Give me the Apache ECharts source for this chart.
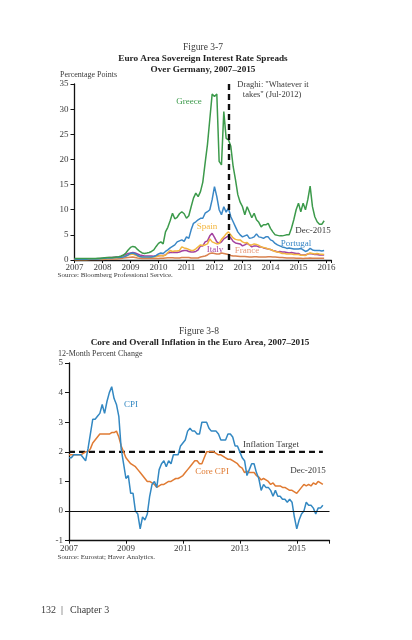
<!DOCTYPE html>
<html><head><meta charset="utf-8">
<script src="https://cdn.jsdelivr.net/npm/echarts@6/dist/echarts.min.js"></script>
<style>html,body{margin:0;padding:0;background:#fff}#c{width:412px;height:640px}</style>
</head><body><div id="c"></div>
<script>
// ---------- Figure 3-7 data (monthly, Jan-2007 .. Dec-2015), percentage points ----------
const startYear = 2007;
const spreadYearTicks = [2007, 2008, 2009, 2010, 2011, 2012, 2013, 2014, 2015, 2016];
const greece = [
  0.3,0.3,0.3,0.3,0.3,0.3,0.3,0.3,0.3,0.3,0.35,0.35,
  0.4,0.45,0.5,0.5,0.5,0.55,0.6,0.65,0.8,1.0,1.4,2.0,
  2.5,2.7,2.6,2.1,1.7,1.4,1.3,1.4,1.5,1.7,2.0,2.7,
  3.3,3.6,3.2,5.6,6.5,7.8,9.3,8.2,8.5,9.2,9.6,9.2,
  8.3,8.8,10.6,12.3,13.3,12.6,13.6,15.5,19.3,23.0,28.0,33.0,
  32.5,33.0,19.6,18.9,29.5,24.2,23.9,22.6,18.6,16.0,13.0,11.5,
  10.6,9.0,10.6,9.5,8.4,9.3,8.0,7.5,6.6,7.0,7.0,7.3,
  6.3,5.6,5.0,4.9,4.8,4.8,4.9,5.0,5.0,6.3,8.0,10.0,
  11.3,9.6,11.3,10.0,12.0,14.7,10.6,8.6,7.6,7.1,7.1,7.8
];
const portugal = [
  0.15,0.15,0.15,0.15,0.15,0.15,0.18,0.2,0.2,0.2,0.22,0.25,
  0.3,0.35,0.4,0.4,0.4,0.45,0.5,0.5,0.55,0.6,0.8,1.0,
  1.3,1.4,1.2,0.9,0.7,0.6,0.6,0.6,0.6,0.6,0.7,0.9,
  1.2,1.4,1.3,1.7,2.0,2.4,2.7,3.0,3.6,3.8,4.0,3.7,
  4.6,4.3,6.0,7.3,7.6,8.0,8.3,8.3,9.3,9.6,10.0,12.0,
  14.6,12.6,10.0,9.0,10.6,9.5,10.3,8.6,7.6,6.6,5.6,5.0,
  4.6,4.8,5.0,4.3,4.4,4.6,5.2,4.6,4.5,4.3,4.6,4.6,
  4.0,3.8,3.3,3.0,2.8,2.6,2.5,2.3,2.4,2.3,2.2,2.2,
  2.2,2.3,2.0,1.7,1.9,2.3,2.0,1.9,1.9,1.9,1.8,1.9
];
const spain = [
  0.1,0.1,0.1,0.1,0.1,0.12,0.15,0.15,0.15,0.15,0.17,0.2,
  0.2,0.3,0.35,0.35,0.35,0.4,0.45,0.5,0.55,0.6,0.8,1.0,
  1.1,1.2,1.0,0.8,0.65,0.6,0.6,0.6,0.55,0.55,0.6,0.65,
  0.8,0.9,0.8,1.0,1.5,1.9,1.7,1.8,1.8,1.9,2.6,2.4,
  2.3,2.1,1.9,1.9,2.2,2.6,3.0,2.9,3.0,3.2,4.2,3.6,
  3.4,3.2,3.3,4.1,4.6,5.2,5.6,5.0,4.4,4.1,4.0,4.0,
  3.6,3.4,3.5,3.0,3.0,3.2,3.1,2.9,2.6,2.5,2.4,2.2,
  2.1,1.9,1.7,1.6,1.5,1.3,1.3,1.2,1.2,1.2,1.1,1.1,
  1.1,0.95,0.95,0.9,1.2,1.4,1.3,1.2,1.3,1.2,1.15,1.1
];
const italy = [
  0.2,0.2,0.2,0.2,0.2,0.22,0.25,0.25,0.25,0.25,0.27,0.3,
  0.3,0.4,0.45,0.5,0.5,0.55,0.6,0.6,0.7,0.9,1.1,1.3,
  1.4,1.5,1.4,1.2,1.0,0.9,0.8,0.8,0.8,0.8,0.75,0.8,
  0.85,0.9,0.9,1.0,1.4,1.5,1.5,1.5,1.5,1.6,1.8,1.9,
  1.9,1.7,1.6,1.6,1.7,2.0,2.8,2.8,3.6,3.8,4.8,5.3,
  4.5,3.6,3.3,3.6,4.2,4.5,4.8,4.4,3.7,3.4,3.3,3.2,
  2.8,3.0,3.3,3.0,2.6,2.8,2.8,2.6,2.6,2.4,2.3,2.2,
  2.1,1.9,1.8,1.6,1.7,1.6,1.6,1.5,1.4,1.5,1.4,1.3,
  1.3,1.0,1.0,1.0,1.2,1.3,1.2,1.1,1.1,1.0,1.0,1.0
];
const france = [
  0.05,0.05,0.05,0.05,0.05,0.05,0.07,0.08,0.08,0.08,0.1,0.1,
  0.1,0.15,0.2,0.2,0.2,0.2,0.2,0.25,0.3,0.4,0.45,0.5,
  0.55,0.6,0.5,0.4,0.35,0.3,0.3,0.3,0.3,0.3,0.3,0.3,
  0.3,0.35,0.35,0.4,0.45,0.45,0.45,0.4,0.4,0.4,0.5,0.5,
  0.5,0.5,0.4,0.4,0.4,0.4,0.6,0.7,0.8,1.0,1.3,1.4,
  1.3,1.2,1.2,1.4,1.3,1.2,1.1,0.9,0.8,0.8,0.75,0.7,
  0.7,0.7,0.65,0.6,0.6,0.65,0.65,0.6,0.6,0.6,0.6,0.65,
  0.65,0.6,0.6,0.55,0.5,0.5,0.45,0.4,0.4,0.4,0.4,0.35,
  0.35,0.35,0.3,0.35,0.35,0.4,0.35,0.35,0.35,0.35,0.35,0.35
];
const draghiDate = 2012.5; // Jul-2012

// ---------- Figure 3-8 data (monthly, Jan-2007 .. Dec-2015), 12-month % change ----------
const inflationYearTicks = [2007, 2009, 2011, 2013, 2015];
const cpi = [
  1.8,1.8,1.9,1.9,1.9,1.9,1.8,1.7,2.1,2.6,3.1,3.1,
  3.2,3.3,3.6,3.3,3.7,4.0,4.2,3.8,3.6,3.2,2.1,1.6,
  1.1,1.2,0.6,0.6,0.0,-0.1,-0.6,-0.2,-0.3,-0.1,0.5,0.9,
  1.0,0.8,1.4,1.6,1.7,1.5,1.7,1.6,1.9,1.9,1.9,2.2,
  2.3,2.4,2.7,2.8,2.7,2.7,2.6,2.6,3.0,3.0,3.0,2.8,
  2.7,2.7,2.7,2.6,2.4,2.4,2.4,2.6,2.6,2.5,2.2,2.2,
  2.0,1.8,1.7,1.2,1.4,1.6,1.6,1.3,1.1,0.7,0.9,0.8,
  0.8,0.7,0.5,0.7,0.5,0.5,0.4,0.4,0.3,0.4,0.3,-0.2,
  -0.6,-0.3,-0.1,0.0,0.3,0.2,0.2,0.1,-0.1,0.1,0.1,0.2
];
const coreCpi = [
  1.9,1.9,1.9,1.9,1.9,1.9,1.95,2.0,2.0,2.1,2.3,2.4,
  2.5,2.6,2.6,2.6,2.6,2.6,2.65,2.65,2.7,2.5,2.2,2.0,
  1.8,1.7,1.6,1.55,1.5,1.4,1.3,1.2,1.1,1.0,1.0,0.95,
  0.9,0.8,0.85,0.9,0.9,0.95,1.0,1.0,1.05,1.1,1.1,1.15,
  1.2,1.3,1.4,1.5,1.6,1.7,1.7,1.6,1.6,1.8,2.0,2.0,
  2.0,2.0,1.95,1.9,1.9,1.85,1.8,1.75,1.75,1.7,1.65,1.6,
  1.5,1.45,1.3,1.35,1.3,1.3,1.3,1.2,1.15,1.05,1.1,1.05,
  1.0,0.9,0.95,0.85,0.85,0.85,0.8,0.8,0.75,0.7,0.7,0.65,
  0.6,0.7,0.8,0.9,0.85,0.9,0.85,0.95,0.9,1.0,0.95,0.9
];
const inflationTarget = 2;

// ---------- helpers ----------
const toPairs = arr => arr.map((v, i) => [startYear + i / 12, v]);
const lastMonth = n => startYear + (n - 1) / 12;
const SERIF = '"Liberation Serif", "Times New Roman", serif';
const TXT = '#3a3a3a';

const yearLabel = v => Math.abs(v - Math.round(v)) < 1e-6 ? String(Math.round(v)) : '';

const chart = echarts.init(document.getElementById('c'), null, {renderer: 'canvas'});

function txt(text, x, y, opts) {
  opts = opts || {};
  return {
    type: 'text', x: x, y: y, silent: true,
    style: {
      text: text,
      font: (opts.bold ? 'bold ' : '') + (opts.size || 9) + 'px ' + SERIF,
      fill: opts.color || TXT,
      textAlign: opts.align || 'center',
      textVerticalAlign: 'middle'
    }
  };
}

function lineSeries(name, data, color, xi, extra) {
  return Object.assign({
    name: name, type: 'line', xAxisIndex: xi, yAxisIndex: xi,
    data: toPairs(data), showSymbol: false, symbol: 'none',
    lineStyle: {color: color, width: 1.5}, itemStyle: {color: color},
    animation: false, z: 3
  }, extra || {});
}

const axisLineStyle = {lineStyle: {color: '#111', width: 1.3}};

const option = {
  animation: false,
  backgroundColor: '#fff',
  grid: [
    {left: 74.5, top: 84, width: 257, height: 176},
    {left: 69, top: 363, width: 260.5, height: 177.7}
  ],
  xAxis: [
    {
      type: 'value', gridIndex: 0, min: spreadYearTicks[0], max: 2016.18, interval: 1,
      axisLine: axisLineStyle, axisTick: {show: true, length: 3, lineStyle: {color: '#111'}},
      splitLine: {show: false},
      axisLabel: {formatter: yearLabel, fontFamily: SERIF, fontSize: 9, color: TXT, margin: 3, showMaxLabel: true}
    },
    {
      type: 'value', gridIndex: 1, min: inflationYearTicks[0], max: 2016.15, interval: 2,
      axisLine: Object.assign({onZero: false}, axisLineStyle), axisTick: {show: true, length: 3, lineStyle: {color: '#111'}},
      splitLine: {show: false},
      axisLabel: {formatter: yearLabel, fontFamily: SERIF, fontSize: 9, color: TXT, margin: 3}
    }
  ],
  yAxis: [
    {
      type: 'value', gridIndex: 0, min: 0, max: 35, interval: 5,
      axisLine: Object.assign({show: true}, axisLineStyle), axisTick: {show: true, length: 4, lineStyle: {color: '#111'}},
      splitLine: {show: false},
      axisLabel: {fontFamily: SERIF, fontSize: 9, color: TXT, margin: 6}
    },
    {
      type: 'value', gridIndex: 1, min: -1, max: 5, interval: 1,
      axisLine: Object.assign({show: true, onZero: false}, axisLineStyle), axisTick: {show: true, length: 4, lineStyle: {color: '#111'}},
      splitLine: {show: false},
      axisLabel: {fontFamily: SERIF, fontSize: 9, color: TXT, margin: 6}
    }
  ],
  series: [
    lineSeries('France', france, '#d9824f', 0),
    lineSeries('Italy', italy, '#a3419f', 0),
    lineSeries('Spain', spain, '#f3b63f', 0),
    lineSeries('Portugal', portugal, '#3a87c6', 0),
    lineSeries('Greece', greece, '#3c9a4b', 0, {
      markLine: {
        silent: true, symbol: 'none', label: {show: false}, animation: false,
        lineStyle: {color: '#111', width: 2.4, type: [6, 4]},
        data: [{xAxis: draghiDate}]
      }
    }),
    {
      name: 'Inflation Target', type: 'line', xAxisIndex: 1, yAxisIndex: 1,
      data: [[startYear, inflationTarget], [lastMonth(cpi.length), inflationTarget]],
      showSymbol: false, symbol: 'none', animation: false, z: 2,
      lineStyle: {color: '#111', width: 2.2, type: [6, 4]},
      markLine: {
        silent: true, symbol: 'none', label: {show: false}, animation: false,
        lineStyle: {color: '#111', width: 1, type: 'solid'},
        data: [{yAxis: 0}]
      }
    },
    lineSeries('Core CPI', coreCpi, '#e07b33', 1),
    lineSeries('CPI', cpi, '#3388c2', 1)
  ],
  graphic: [
    // Figure 3-7 titles
    txt('Figure 3-7', 203, 47, {size: 9.5}),
    txt('Euro Area Sovereign Interest Rate Spreads', 203, 58.5, {size: 9.2, bold: true, color: '#222'}),
    txt('Over Germany, 2007\u20132015', 203, 69.5, {size: 9.2, bold: true, color: '#222'}),
    txt('Percentage Points', 60, 75, {size: 8, align: 'left'}),
    txt('Greece', 189, 102, {size: 9, color: '#3c9a4b'}),
    txt('Draghi: "Whatever it', 273, 85, {size: 8.5}),
    txt('takes" (Jul-2012)', 272, 94.5, {size: 8.5}),
    txt('Spain', 207, 227, {size: 9, color: '#f3b63f'}),
    txt('Italy', 215, 249.5, {size: 9, color: '#a3419f'}),
    txt('France', 247, 251, {size: 9, color: '#e89a7a'}),
    txt('Portugal', 296, 243.5, {size: 9, color: '#3a87c6'}),
    txt('Dec-2015', 313, 231, {size: 9}),
    txt('Source: Bloomberg Professional Service.', 57.5, 275.5, {size: 7, align: 'left'}),
    // Figure 3-8 titles
    txt('Figure 3-8', 199, 331, {size: 9.5}),
    txt('Core and Overall Inflation in the Euro Area, 2007\u20132015', 200, 342.5, {size: 9.2, bold: true, color: '#222'}),
    txt('12-Month Percent Change', 58, 353.5, {size: 8, align: 'left'}),
    txt('CPI', 131, 405, {size: 9, color: '#3388c2'}),
    txt('Inflation Target', 271, 444.5, {size: 9}),
    txt('Core CPI', 212, 472, {size: 9, color: '#e07b33'}),
    txt('Dec-2015', 308, 471, {size: 9}),
    txt('Source: Eurostat; Haver Analytics.', 57.5, 557, {size: 7, align: 'left'}),
    // page footer
    txt('132  |', 41, 610, {size: 10, align: 'left'}),
    txt('Chapter 3', 70, 610, {size: 10, align: 'left'})
  ]
};
chart.setOption(option);
</script>
</body></html>
